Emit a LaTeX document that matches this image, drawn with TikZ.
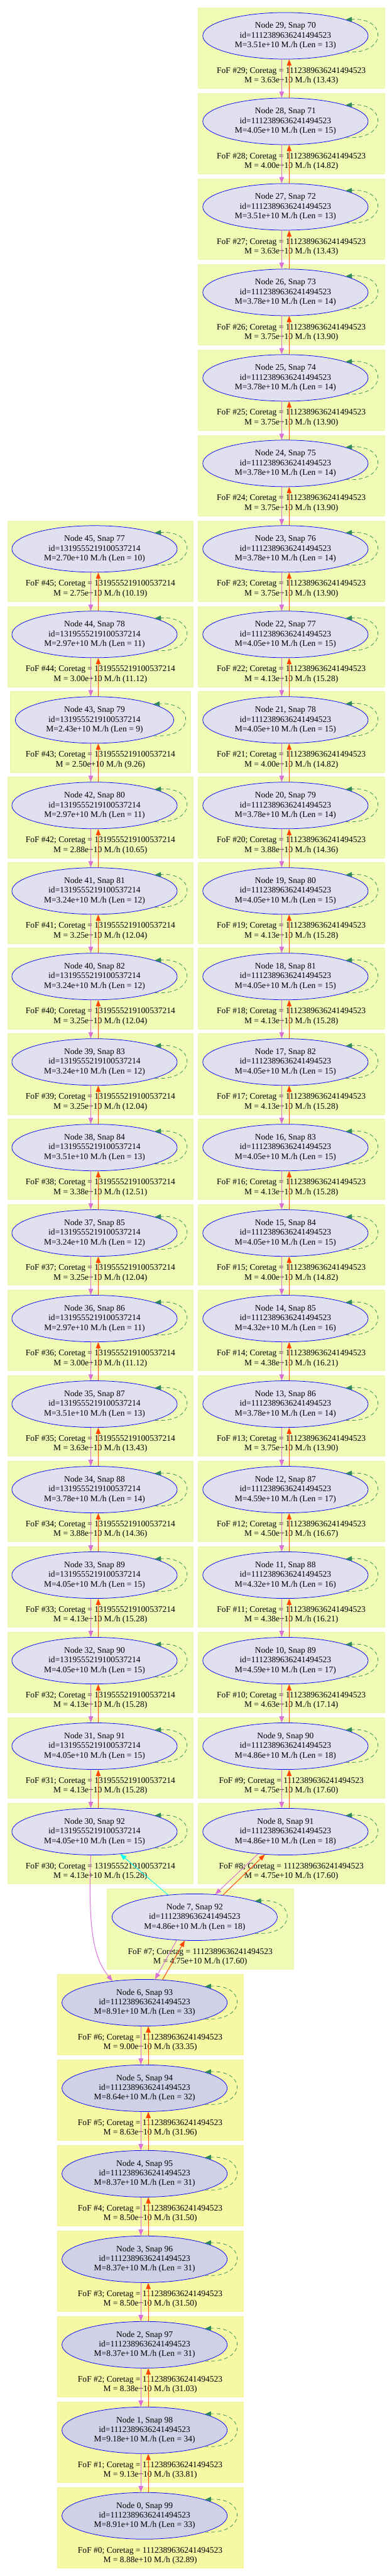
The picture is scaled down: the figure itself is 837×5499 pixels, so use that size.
\documentclass[tikz,border=0pt]{standalone}
\usepackage{fontspec}
\setmainfont{Liberation Serif}
\usetikzlibrary{shapes.geometric,arrows.meta}
\definecolor{clusA}{RGB}{241,250,181}
\definecolor{clusB}{RGB}{247,248,163}
\definecolor{clusLineA}{RGB}{236,245,170}
\definecolor{clusLineB}{RGB}{242,242,150}
\definecolor{nodeA}{RGB}{224,224,240}
\definecolor{nodeB}{RGB}{208,208,230}
\definecolor{orchidc}{RGB}{218,112,214}
\definecolor{orangec}{RGB}{255,69,0}
\definecolor{cyanc}{RGB}{0,255,255}
\definecolor{seagreenc}{RGB}{46,139,87}
\newcommand\nfont{\fontsize{13.6pt}{15.4pt}\selectfont}
\begin{document}
\begin{tikzpicture}[x=0.75pt,y=-0.75pt,
  arrowtip/.style={-{Triangle[length=10pt,width=7.5pt]}},
  hnode/.style={ellipse,draw=blue,line width=0.75pt,fill=nodeA,minimum width=265pt,minimum height=74.6pt,inner sep=0pt,align=center,font=\nfont},
  hnodeB/.style={hnode,fill=nodeB},
  flabel/.style={align=center,font=\nfont,inner sep=0pt},
  clusbox/.style={fill=clusA,draw=clusLineA,line width=0.5pt},
  clusboxB/.style={fill=clusB,draw=clusLineB,line width=0.5pt},
  pedge/.style={draw=orchidc,line width=1pt,arrowtip},
  redge/.style={draw=orangec,line width=1pt,arrowtip},
  cedge/.style={draw=cyanc,line width=0.9pt,arrowtip},
  loopedge/.style={draw=seagreenc,line width=0.75pt,dash pattern=on 6pt off 4.5pt,arrowtip}]
\fill[white] (0,0) rectangle (837,5499);
\useasboundingbox (0,0) rectangle (837,5499);
% right column
\foreach \k/\sn/\ms/\lv/\fm/\fq in {29/70/3.51/13/3.63/13.43, 28/71/4.05/15/4.00/14.82, 27/72/3.51/13/3.63/13.43, 26/73/3.78/14/3.75/13.90, 25/74/3.78/14/3.75/13.90, 24/75/3.78/14/3.75/13.90, 23/76/3.78/14/3.75/13.90, 22/77/4.05/15/4.13/15.28, 21/78/4.05/15/4.00/14.82, 20/79/3.78/14/3.88/14.36, 19/80/4.05/15/4.13/15.28, 18/81/4.05/15/4.13/15.28, 17/82/4.05/15/4.13/15.28, 16/83/4.05/15/4.13/15.28, 15/84/4.05/15/4.00/14.82, 14/85/4.32/16/4.38/16.21, 13/86/3.78/14/3.75/13.90, 12/87/4.59/17/4.50/16.67, 11/88/4.32/16/4.38/16.21, 10/89/4.59/17/4.63/17.14, 9/90/4.86/18/4.75/17.60, 8/91/4.86/18/4.75/17.60}{
  \pgfmathsetmacro\T{16+(29-\k)*182.55}
  \path[clusbox] (423,\T) rectangle (822,\T+172);
  \node[flabel] (f\k) at (622.5,\T+146) {FoF \#\k; Coretag = 1112389636241494523\\M = \fm e+10 M./h (\fq)};
  \node[hnode] (n\k) at (610,\T+60.5) {Node \k, Snap \sn\\id=1112389636241494523\\M=\ms e+10 M./h (Len = \lv)};
}
% left column
\foreach \k/\sn/\ms/\lv/\fm/\fq in {45/77/2.70/10/2.75/10.19, 44/78/2.97/11/3.00/11.12, 43/79/2.43/9/2.50/9.26, 42/80/2.97/11/2.88/10.65, 41/81/3.24/12/3.25/12.04, 40/82/3.24/12/3.25/12.04, 39/83/3.24/12/3.25/12.04, 38/84/3.51/13/3.38/12.51, 37/85/3.24/12/3.25/12.04, 36/86/2.97/11/3.00/11.12, 35/87/3.51/13/3.63/13.43, 34/88/3.78/14/3.88/14.36, 33/89/4.05/15/4.13/15.28, 32/90/4.05/15/4.13/15.28, 31/91/4.05/15/4.13/15.28, 30/92/4.05/15/4.13/15.28}{
  \pgfmathsetmacro\T{16+(51-\k)*182.55}
  \ifnum\k=43 \def\cL{22}\def\cR{407}\def\nw{254pt}\else \def\cL{16}\def\cR{413}\def\nw{265pt}\fi
  \path[clusbox] (\cL,\T) rectangle (\cR,\T+172);
  \node[flabel] (f\k) at (214.5,\T+146) {FoF \#\k; Coretag = 1319555219100537214\\M = \fm e+10 M./h (\fq)};
  \node[hnode,minimum width=\nw] (n\k) at (202,\T+60.5) {Node \k, Snap \sn\\id=1319555219100537214\\M=\ms e+10 M./h (Len = \lv)};
}
% node 7
\pgfmathsetmacro\T{16+22*182.55}
\path[clusbox] (229,\T) rectangle (627,\T+172);
\node[flabel] (f7) at (428,\T+146) {FoF \#7; Coretag = 1112389636241494523\\M = 4.75e+10 M./h (17.60)};
\node[hnode] (n7) at (416,\T+60.5) {Node 7, Snap 92\\id=1112389636241494523\\M=4.86e+10 M./h (Len = 18)};
% bottom column
\foreach \k/\sn/\ms/\lv/\fm/\fq in {6/93/8.91/33/9.00/33.35, 5/94/8.64/32/8.63/31.96, 4/95/8.37/31/8.50/31.50, 3/96/8.37/31/8.50/31.50, 2/97/8.37/31/8.38/31.03, 1/98/9.18/34/9.13/33.81, 0/99/8.91/33/8.88/32.89}{
  \pgfmathsetmacro\T{16+(29-\k)*182.55}
  \path[clusboxB] (122,\T) rectangle (520,\T+172);
  \node[flabel] (f\k) at (321,\T+146) {FoF \#\k; Coretag = 1112389636241494523\\M = \fm e+10 M./h (\fq)};
  \node[hnodeB] (n\k) at (309,\T+60.5) {Node \k, Snap \sn\\id=1112389636241494523\\M=\ms e+10 M./h (Len = \lv)};
}
% vertical edge pairs
\foreach \k in {29,...,9}{\pgfmathtruncatemacro\j{\k-1}
  \draw[pedge] ([xshift=-6pt]n\k.south) -- ([xshift=-6pt]n\j.north);
  \draw[redge] ([xshift=6pt]n\j.north) -- ([xshift=6pt]n\k.south);}
\foreach \k in {45,...,31}{\pgfmathtruncatemacro\j{\k-1}
  \draw[pedge] ([xshift=-6pt]n\k.south) -- ([xshift=-6pt]n\j.north);
  \draw[redge] ([xshift=6pt]n\j.north) -- ([xshift=6pt]n\k.south);}
\foreach \k in {6,...,1}{\pgfmathtruncatemacro\j{\k-1}
  \draw[pedge] ([xshift=-6pt]n\k.south) -- ([xshift=-6pt]n\j.north);
  \draw[redge] ([xshift=6pt]n\j.north) -- ([xshift=6pt]n\k.south);}
% merging edges
\draw[pedge] ([xshift=-6pt]n30.south) .. controls (188,4120) and (200,4180) .. (n6.146);
\draw[cedge] (n7.140) -- (n30.-41);
\draw[pedge] (n8.-141) -- (n7.48);
\draw[redge] (n7.38) -- (n8.-132);
\draw[pedge] (n7.-128) -- (n6.66);
\draw[redge] (n6.52) -- (n7.-113);
% self loops
\foreach \k in {0,...,45}{
  \draw[loopedge] (n\k.-15) .. controls +(91,6.5) and +(89,-5.5) .. (n\k.15);}
\end{tikzpicture}
\end{document}
